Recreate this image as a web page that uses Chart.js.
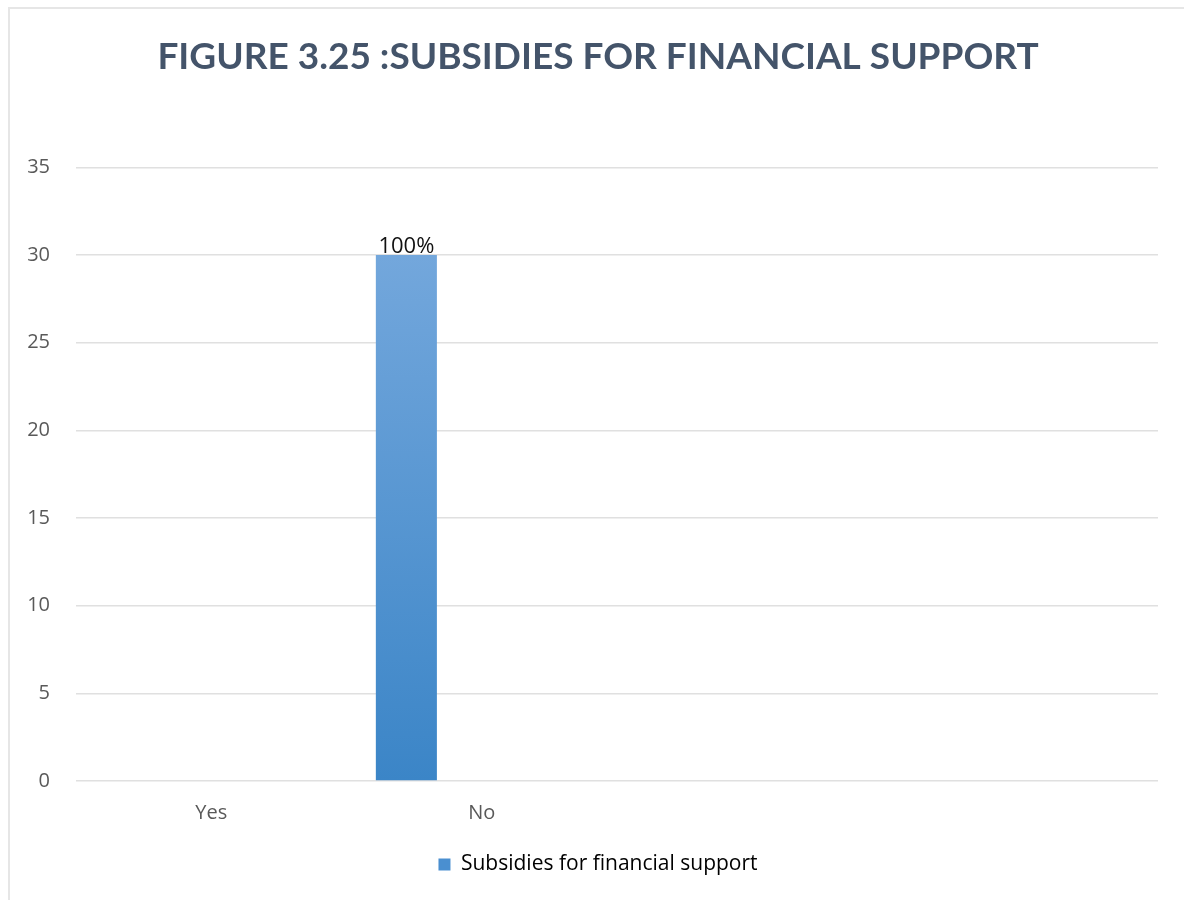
<!DOCTYPE html>
<html>
<head>
<meta charset="utf-8">
<title>Subsidies for financial support</title>
<script src="https://cdn.jsdelivr.net/npm/chart.js@4.4.0/dist/chart.umd.min.js"></script>
<style>
  body { margin: 0; background: #fff; }
  #wrap { position: relative; width: 1184px; height: 900px; overflow: hidden; }
  #frame { position: absolute; left: 8px; top: 7px; width: 1180px; height: 910px; border: 2px solid #e6e6e6; box-sizing: border-box; }
  #myChart { position: absolute; left: 0; top: 0; }
</style>
</head>
<body>
<div id="wrap">
  <div id="frame"></div>
  <canvas id="myChart" width="1184" height="900"></canvas>
</div>
<script>
let categories = ['Yes', 'No', '', ''];
let subsidies = [0, 30, null, null];
let seriesName = 'Subsidies for financial support';
// two unnamed columns from the sheet, left empty
let emptySeriesA = [null, null, null, null];
let emptySeriesB = [null, null, null, null];
let yTicks = [0, 5, 10, 15, 20, 25, 30, 35];

const ctx = document.getElementById('myChart');

let total = subsidies.reduce((a, b) => a + (b || 0), 0);

function barGradient(context) {
    let chart = context.chart;
    let y = chart.scales.y;
    if (!y || context.raw == null) return '#5b9bd5';
    let top = y.getPixelForValue(context.raw);
    let bottom = y.getPixelForValue(0);
    if (top === bottom) return '#5b9bd5';
    let g = chart.ctx.createLinearGradient(0, top, 0, bottom);
    g.addColorStop(0, '#73a7dc');
    g.addColorStop(1, '#3b85c7');
    return g;
}

// percent label on top of each non-zero bar
const percentLabels = {
    id: 'percentLabels',
    afterDatasetsDraw(chart) {
        let meta = chart.getDatasetMeta(0);
        let c = chart.ctx;
        c.save();
        c.font = '22px "Open Sans"';
        c.fillStyle = '#111';
        c.textAlign = 'center';
        c.textBaseline = 'bottom';
        meta.data.forEach((bar, i) => {
            let v = subsidies[i];
            if (!v) return;
            let pct = Math.round(v / total * 100) + '%';
            c.fillText(pct, bar.x, bar.y + 3);
        });
        c.restore();
    }
};

new Chart(ctx, {
    type: 'bar',
    data: {
        labels: categories,
        datasets: [
            {
                label: seriesName,
                data: subsidies,
                backgroundColor: barGradient,
                borderWidth: 0
            },
            { label: '', data: emptySeriesA, backgroundColor: '#ed7d31' },
            { label: '', data: emptySeriesB, backgroundColor: '#a5a5a5' }
        ]
    },
    options: {
        responsive: false,
        animation: false,
        categoryPercentage: 0.836,
        barPercentage: 0.81,
        layout: { padding: { left: 12, right: 0, top: 0, bottom: 15 } },
        plugins: {
            title: {
                display: true,
                text: 'FIGURE 3.25 :SUBSIDIES FOR FINANCIAL SUPPORT',
                color: '#44546a',
                font: { family: 'Lato', size: 37, weight: 'bold' },
                padding: { top: 35, bottom: 88 }
            },
            legend: {
                position: 'bottom',
                labels: {
                    color: '#595959',
                    font: { family: 'Open Sans', size: 21 },
                    boxWidth: 12,
                    boxHeight: 12,
                    padding: 10,
                    generateLabels: chart => [{
                        text: seriesName,
                        fillStyle: '#4a8fd0',
                        strokeStyle: '#4a8fd0',
                        lineWidth: 0,
                        datasetIndex: 0
                    }]
                }
            },
            tooltip: { enabled: false }
        },
        scales: {
            x: {
                grid: { display: false },
                border: { display: false },
                ticks: {
                    color: '#595959',
                    font: { family: 'Open Sans', size: 20 },
                    padding: 12
                },
                afterFit: scale => { scale.height = 63; }
            },
            y: {
                min: 0,
                max: 35,
                afterBuildTicks: scale => {
                    scale.ticks = yTicks.map(v => ({ value: v }));
                },
                grid: { color: '#e0e0e0', lineWidth: 1.5, drawTicks: false },
                border: { display: false },
                ticks: {
                    color: '#595959',
                    font: { family: 'Open Sans', size: 20 },
                    padding: 26
                },
                afterFit: scale => { scale.width = 64; }
            },
            // blank strip on the right edge of the plot
            yRight: {
                position: 'right',
                grid: { display: false },
                border: { display: false },
                ticks: { display: false },
                afterFit: scale => { scale.width = 26; }
            }
        }
    },
    plugins: [percentLabels]
});
</script>
</body>
</html>
